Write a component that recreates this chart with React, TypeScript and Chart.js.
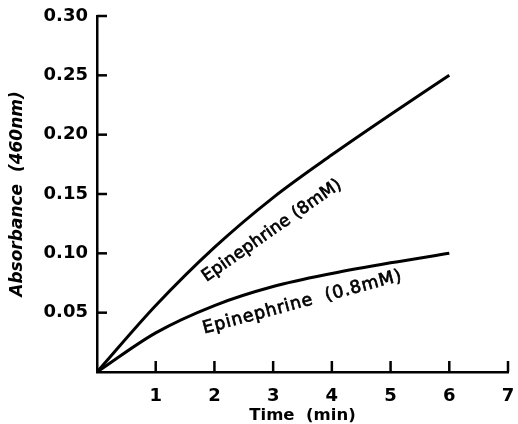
import React, { useEffect, useRef } from 'react';
import { Chart, registerables } from 'chart.js';

Chart.register(...registerables);

// ---- data ----
const times = [0, 1, 2, 3, 4, 5, 6];
const epinephrine8mM = [0, 0.056, 0.105, 0.147, 0.183, 0.217, 0.25];
const epinephrine08mM = [0, 0.033, 0.056, 0.072, 0.083, 0.092, 0.1];
const xTickValues = [1, 2, 3, 4, 5, 6, 7];
const yTickValues = [0.05, 0.1, 0.15, 0.2, 0.25, 0.3];
const curveLabels = ['Epinephrine (8mM)', 'Epinephrine  (0.8mM)'];
const curveLabelTimes = [2.98, 3.5];
const curveLabelAbs = [0.119, 0.0586];
const curveLabelAngles = [-35, -15];

const FONT = "'DejaVu Sans', sans-serif";

const inwardTicks = {
  id: 'inwardTicks',
  afterDraw(chart: any) {
    const { ctx, chartArea, scales } = chart;
    ctx.save();
    ctx.strokeStyle = '#000';
    ctx.lineWidth = 2.5;
    ctx.lineCap = 'butt';
    xTickValues.forEach((v) => {
      const px = scales.x.getPixelForValue(v);
      ctx.beginPath();
      ctx.moveTo(px, chartArea.bottom);
      ctx.lineTo(px, chartArea.bottom - 11);
      ctx.stroke();
    });
    yTickValues.forEach((v) => {
      const py = scales.y.getPixelForValue(v);
      ctx.beginPath();
      ctx.moveTo(chartArea.left, py);
      ctx.lineTo(chartArea.left + 10, py);
      ctx.stroke();
    });
    ctx.restore();
  },
};

const curveTextPlugin = {
  id: 'curveText',
  afterDatasetsDraw(chart: any) {
    const { ctx, scales } = chart;
    ctx.save();
    ctx.fillStyle = '#000';
    ctx.strokeStyle = '#000';
    ctx.lineWidth = 0.7;
    ctx.textAlign = 'center';
    ctx.textBaseline = 'middle';
    curveLabels.forEach((text, i) => {
      const px = scales.x.getPixelForValue(curveLabelTimes[i]);
      const py = scales.y.getPixelForValue(curveLabelAbs[i]);
      ctx.save();
      ctx.translate(px, py);
      ctx.rotate((curveLabelAngles[i] * Math.PI) / 180);
      ctx.font = i === 1 ? `17.5px ${FONT}` : `17px ${FONT}`;
      (ctx as any).letterSpacing = i === 1 ? '0.8px' : '0.2px';
      ctx.fillText(text, 0, 0);
      ctx.strokeText(text, 0, 0);
      ctx.restore();
    });
    ctx.restore();
  },
};

export default function App() {
  const ref = useRef<HTMLCanvasElement | null>(null);

  useEffect(() => {
    if (!ref.current) return;
    const chart = new Chart(ref.current, {
      type: 'line',
      data: {
        datasets: [
          {
            label: curveLabels[0],
            data: times.map((t, i) => ({ x: t, y: epinephrine8mM[i] })),
            borderColor: '#000',
            borderWidth: 3,
            pointRadius: 0,
            cubicInterpolationMode: 'monotone',
            fill: false,
          },
          {
            label: curveLabels[1],
            data: times.map((t, i) => ({ x: t, y: epinephrine08mM[i] })),
            borderColor: '#000',
            borderWidth: 3,
            pointRadius: 0,
            cubicInterpolationMode: 'monotone',
            fill: false,
          },
        ],
      },
      options: {
        responsive: false,
        animation: false,
        devicePixelRatio: 1,
        layout: { padding: { top: 16, right: 10, left: 0, bottom: 0 } },
        plugins: {
          legend: { display: false },
          tooltip: { enabled: false },
        },
        scales: {
          x: {
            type: 'linear',
            min: 0,
            max: 7,
            grid: { display: false, drawTicks: false },
            border: { display: true, color: '#000', width: 2.5 },
            ticks: {
              stepSize: 1,
              padding: 14,
              color: '#000',
              font: { family: FONT, size: 18, weight: 'bold' },
              callback: (v: any) => (Number(v) === 0 ? '' : String(v)),
              maxRotation: 0,
            },
            title: {
              display: true,
              text: 'Time  (min)',
              color: '#000',
              font: { family: FONT, size: 16.5, weight: 'bold', lineHeight: 1 },
              padding: { top: 0, bottom: 0 },
            },
            afterFit: (s: any) => {
              s.height = 52;
              s.paddingLeft = 0;
              s.paddingRight = 0;
            },
          },
          y: {
            type: 'linear',
            min: 0,
            max: 0.3,
            grid: { display: false, drawTicks: false },
            border: { display: true, color: '#000', width: 2.5 },
            ticks: {
              stepSize: 0.05,
              padding: 9,
              color: '#000',
              font: { family: FONT, size: 18, weight: 'bold' },
              callback: (v: any) => (Number(v) < 1e-9 ? '' : Number(v).toFixed(2)),
            },
            title: {
              display: true,
              text: 'Absorbance  (460nm)',
              color: '#000',
              font: { family: FONT, size: 17, style: 'italic', weight: 'bold', lineHeight: 1 },
              padding: { top: 9, bottom: 0 },
            },
            afterFit: (s: any) => {
              s.width = 97;
              s.paddingTop = 0;
              s.paddingBottom = 0;
            },
          },
        },
      } as any,
      plugins: [inwardTicks, curveTextPlugin],
    });
    return () => chart.destroy();
  }, []);

  return (
    <div style={{ position: 'fixed', left: 0, top: 0, width: 518, height: 424, background: '#fff' }}>
      <canvas ref={ref} width={518} height={424} />
    </div>
  );
}
